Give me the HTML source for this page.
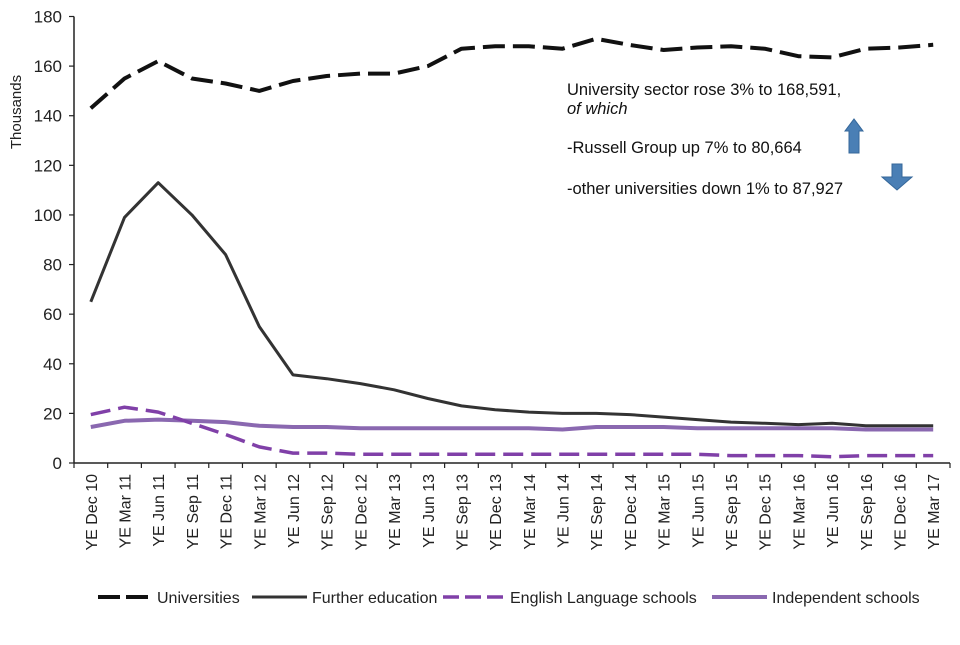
<!DOCTYPE html>
<html><head><meta charset="utf-8"><style>
body{margin:0;background:#fff;}
svg{font-family:"Liberation Sans",Arial,sans-serif;}
</style></head><body>
<svg id="chart" width="960" height="640" viewBox="0 0 960 640" xmlns="http://www.w3.org/2000/svg">
<g id="axes"></g>
<g id="series"></g>
<text transform="translate(21,112) rotate(-90)" text-anchor="middle" font-size="15" fill="#222">Thousands</text>
<g font-size="16.5" fill="#111">
<text x="567" y="95">University sector rose 3% to 168,591,</text>
<text x="567" y="114" font-style="italic">of which</text>
<text x="567" y="153">-Russell Group up 7% to 80,664</text>
<text x="567" y="194">-other universities down 1% to 87,927</text>
</g>
<path d="M849,153 L849,131 L845,131 L854,119 L863,131 L859,131 L859,153 Z" fill="#4a7fb5" stroke="#35679a" stroke-width="1"/>
<path d="M892,164 L902,164 L902,177 L912,177 L897,190 L882,177 L892,177 Z" fill="#4a7fb5" stroke="#35679a" stroke-width="1"/>
<g id="legend" font-size="16" fill="#222"></g>
</svg>
<script>
const categories=["YE Dec 10","YE Mar 11","YE Jun 11","YE Sep 11","YE Dec 11","YE Mar 12","YE Jun 12","YE Sep 12","YE Dec 12","YE Mar 13","YE Jun 13","YE Sep 13","YE Dec 13","YE Mar 14","YE Jun 14","YE Sep 14","YE Dec 14","YE Mar 15","YE Jun 15","YE Sep 15","YE Dec 15","YE Mar 16","YE Jun 16","YE Sep 16","YE Dec 16","YE Mar 17"];
const universities=[143,155,162,155,153,150,154,156,157,157,160,167,168,168,167,171,168.5,166.5,167.5,168,167,164,163.5,167,167.5,168.6];
const furtherEducation=[65,99,113,100,84,55,35.5,34,32,29.5,26,23,21.5,20.5,20,20,19.5,18.5,17.5,16.5,16,15.5,16,15,15,15];
const englishLanguage=[19.5,22.5,20.5,16,11.5,6.5,4,4,3.5,3.5,3.5,3.5,3.5,3.5,3.5,3.5,3.5,3.5,3.5,3,3,3,2.5,3,3,3];
const independent=[14.5,17,17.5,17,16.5,15,14.5,14.5,14,14,14,14,14,14,13.5,14.5,14.5,14.5,14,14,14,14,14,13.5,13.5,13.5];
const yTicks=[0,20,40,60,80,100,120,140,160,180];
const legendLabels=["Universities","Further education","English Language schools","Independent schools"];

const NS="http://www.w3.org/2000/svg";
const X0=74,X1=950,Y0=463,Y1=16.5,YMAX=180;
const step=(X1-X0)/categories.length;
const xScale=i=>X0+step*(i+0.5);
const yScale=v=>Y0-(v/YMAX)*(Y0-Y1);
function mk(t,a,p){const e=document.createElementNS(NS,t);for(const k in a)e.setAttribute(k,a[k]);p.appendChild(e);return e;}
const axes=document.getElementById('axes');
let e=mk('line',{x1:X0,y1:Y1,x2:X0,y2:Y0,stroke:'#222','stroke-width':1.5},axes);


e=mk('line',{x1:X0,y1:Y0,x2:X1,y2:Y0,stroke:'#222','stroke-width':1.5},axes);


yTicks.forEach(v=>{const y=yScale(v);
 mk('line',{x1:X0-5,y1:y,x2:X0,y2:y,stroke:'#222','stroke-width':1.2},axes);
 const t=mk('text',{x:X0-12,y:y+6,'text-anchor':'end','font-size':17,fill:'#222'},axes);t.textContent=v;
 
 
});
for(let i=0;i<=categories.length;i++){const x=X0+step*i;mk('line',{x1:x,y1:Y0,x2:x,y2:Y0+5,stroke:'#222','stroke-width':1.2},axes);}
categories.forEach((c,i)=>{const x=xScale(i)+6;
 const t=mk('text',{transform:`translate(${x},474) rotate(-90)`,'text-anchor':'end','font-size':16,fill:'#222'},axes);t.textContent=c;
 
 
});
const styles=[
 {d:universities,stroke:'#111',w:4,dash:'22,8',name:'universities-line'},
 {d:furtherEducation,stroke:'#333',w:3,dash:'',name:'further-education-line'},
 {d:englishLanguage,stroke:'#8040a8',w:3.5,dash:'20,8',name:'english-language-schools-line'},
 {d:independent,stroke:'#8a68b0',w:4,dash:'',name:'independent-schools-line'}];
const sg=document.getElementById('series');
[3,2,1,0].forEach(k=>{const s=styles[k];
 const pts=s.d.map((v,i)=>xScale(i).toFixed(1)+','+yScale(v).toFixed(1)).join(' ');
 const p=mk('polyline',{points:pts,fill:'none',stroke:s.stroke,'stroke-width':s.w,'stroke-linejoin':'round'},sg);
 if(s.dash)p.setAttribute('stroke-dasharray',s.dash);
 
 
});
const lg=document.getElementById('legend');
const lx=[[98,157],[252,312],[443,510],[712,772]];
legendLabels.forEach((l,k)=>{const s=styles[k];const [a,b]=lx[k];
 const g=mk('g',{},lg);
 
 
 const ln=mk('line',{x1:a,y1:597,x2:b-5,y2:597,stroke:s.stroke,'stroke-width':s.w},g);
 if(s.dash)ln.setAttribute('stroke-dasharray',k==0?'22,6':'16,6');
 const t=mk('text',{x:b,y:603},g);t.textContent=l;
});
</script>
</body></html>
